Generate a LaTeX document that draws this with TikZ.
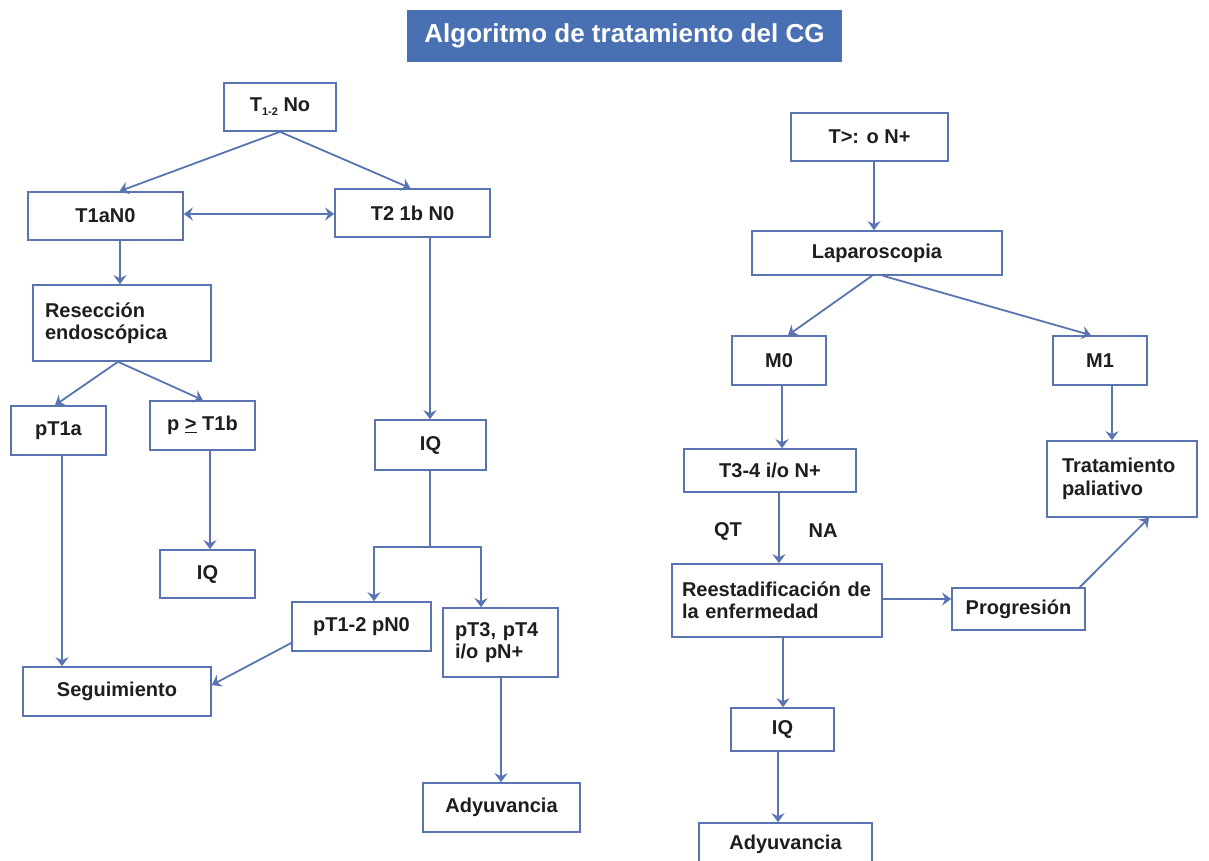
\documentclass[tikz,border=0pt]{standalone}
\usepackage{fontspec}
\setmainfont{Liberation Sans}
\usetikzlibrary{arrows.meta}
\definecolor{lineblue}{HTML}{5A74B2}
\definecolor{titleblue}{HTML}{4A70B4}
\definecolor{txt}{HTML}{1E1E1E}
\tikzset{
  box/.style={draw=lineblue, line width=1.6pt, fill=white, inner sep=0pt,
    font=\fontsize{20}{22.5}\selectfont\bfseries, text=txt, align=center},
  lbox/.style={box, align=left},
  lbl/.style={inner sep=0pt, font=\fontsize{20}{22}\selectfont\bfseries, text=txt},
  arr/.style={draw=lineblue, line width=1.8pt, -{Stealth[width=13pt,length=9pt,inset=3pt]}},
  dbl/.style={draw=lineblue, line width=1.8pt, {Stealth[width=13pt,length=9pt,inset=3pt]}-{Stealth[width=13pt,length=9pt,inset=3pt]}},
  ln/.style={draw=lineblue, line width=1.8pt},
}
\begin{document}
\begin{tikzpicture}[x=1pt,y=-1pt]
\clip (0,0) rectangle (1209,861);
\fill[white] (0,0) rectangle (1209,861);
% title
\node[fill=titleblue, minimum width=435pt, minimum height=52pt, inner sep=0pt,
  text=white, font=\fontsize{26}{30}\selectfont\bfseries] (title) at (624.5,36) {Algoritmo de tratamiento del CG};
% left column
\node[box, minimum width=112pt, minimum height=48pt] (t12) at (280,107) {T\raisebox{-4pt}{\fontsize{11}{11}\selectfont 1-2} No};
\node[box, minimum width=155pt, minimum height=48pt] (t1a) at (105.5,216) {T1aN0};
\node[box, minimum width=155pt, minimum height=48pt] (t2) at (412.5,213) {T2 1b N0};
\node[lbox, text width=154pt, inner xsep=12pt, minimum height=76pt] (res) at (122,323) {Resección\\endoscópica};
\node[box, minimum width=95pt, minimum height=49pt] (pt1a) at (58.5,430.5) {pT1a};
\node[box, minimum width=105pt, minimum height=49pt] (pt1b) at (202.5,425.5) {p \underline{>} T1b};
\node[box, minimum width=95pt, minimum height=48pt] (iqa) at (207.5,574) {IQ};
\node[box, minimum width=111pt, minimum height=50pt] (iqb) at (430.5,445) {IQ};
\node[box, minimum width=139pt, minimum height=49pt] (pn0) at (361.5,626.5) {pT1-2 pN0};
\node[lbox, text width=91pt, inner xsep=12pt, minimum height=69pt] (pt3) at (500.5,642.5) {pT3, pT4\\i/o pN+};
\node[box, minimum width=188pt, minimum height=49pt] (seg) at (117,691.5) {Seguimiento};
\node[box, minimum width=157pt, minimum height=49pt] (adya) at (501.5,807.5) {Adyuvancia};
% right column
\node[box, minimum width=157pt, minimum height=48pt] (tn) at (869.5,137) {T>: o N+};
\node[box, minimum width=250pt, minimum height=44pt] (lap) at (877,253) {Laparoscopia};
\node[box, minimum width=94pt, minimum height=49pt] (m0) at (779,360.5) {M0};
\node[box, minimum width=94pt, minimum height=49pt] (m1) at (1100,360.5) {M1};
\node[box, minimum width=172pt, minimum height=43pt] (t34) at (770,470.5) {T3-4 i/o N+};
\node[lbox, text width=120pt, inner xsep=15pt, minimum height=76pt] (pal) at (1122,479) {Tratamiento\\paliativo};
\node[lbl] (qt) at (728,531) {QT};
\node[lbl] (na) at (823,531) {NA};
\node[lbox, text width=190pt, inner xsep=10pt, minimum height=73pt] (ree) at (777,600.5) {Reestadificación de\\la enfermedad};
\node[box, minimum width=133pt, minimum height=42pt] (prog) at (1018.5,609) {Progresión};
\node[box, minimum width=103pt, minimum height=43pt] (iqr) at (782.5,729.5) {IQ};
\node[box, minimum width=173pt, minimum height=42pt] (adyr) at (785.5,844) {Adyuvancia};
% connectors left
\draw[arr] (t12.south) -- ([xshift=14pt]t1a.north);
\draw[arr] (t12.south) -- ([xshift=-2pt]t2.north);
\draw[dbl] ([yshift=2pt]t1a.east) -- ([yshift=-1pt]t2.west);
\draw[arr] ([xshift=14.5pt]t1a.south) -- ([xshift=-2pt]res.north);
\draw[arr] ([xshift=-4pt]res.south) -- ([xshift=-3.5pt]pt1a.north);
\draw[arr] ([xshift=-4pt]res.south) -- ([xshift=0.5pt]pt1b.north);
\draw[arr] ([xshift=3.5pt]pt1a.south) -- ([xshift=-55pt]seg.north);
\draw[arr] ([xshift=7.5pt]pt1b.south) -- ([xshift=2.5pt]iqa.north);
\draw[arr] ([xshift=17.5pt]t2.south) -- ([xshift=-0.5pt]iqb.north);
\coordinate (split) at (430,547);
\draw[ln] ([xshift=-0.5pt]iqb.south) -- (split);
\draw[arr] (split) -| ([xshift=12.5pt]pn0.north);
\draw[arr] (split) -| ([xshift=-19.5pt]pt3.north);
\draw[arr] ([yshift=-16.5pt]pn0.west) -- ([yshift=6.5pt]seg.east);
\draw[arr] ([xshift=0.5pt]pt3.south) -- ([xshift=-0.5pt]adya.north);
% connectors right
\draw[arr] ([xshift=4.5pt]tn.south) -- ([xshift=-3pt]lap.north);
\draw[arr] ([xshift=-5pt]lap.south) -- ([xshift=9pt]m0.north);
\draw[arr] ([xshift=6pt]lap.south) -- ([xshift=-9pt]m1.north);
\draw[arr] ([xshift=3pt]m0.south) -- ([xshift=12pt]t34.north);
\draw[arr] ([xshift=12pt]m1.south) -- ([xshift=-10pt]pal.north);
\draw[arr] ([xshift=9pt]t34.south) -- ([xshift=2pt]ree.north);
\draw[arr] ([yshift=1.5pt]ree.east) -- ([yshift=10pt]prog.west);
\draw[arr] ([xshift=-6pt]prog.north east) -- ([xshift=27pt]pal.south);
\draw[arr] ([xshift=6pt]ree.south) -- ([xshift=0.5pt]iqr.north);
\draw[arr] ([xshift=-4.5pt]iqr.south) -- ([xshift=-7.5pt]adyr.north);
\end{tikzpicture}
\end{document}
